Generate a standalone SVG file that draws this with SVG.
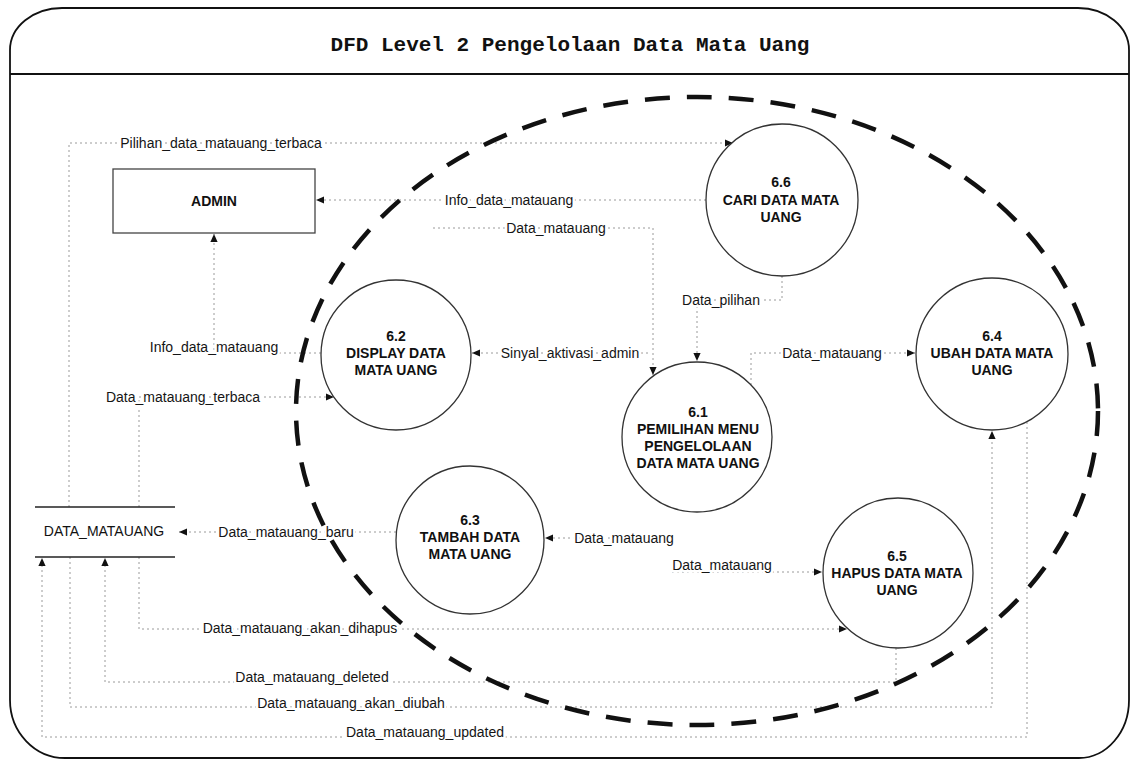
<svg xmlns="http://www.w3.org/2000/svg" width="1135" height="762" viewBox="0 0 1135 762">
<defs>
<marker id="arr" viewBox="0 0 10 10" refX="10" refY="5" markerWidth="8" markerHeight="8" markerUnits="userSpaceOnUse" orient="auto"><path d="M0,0.5 L10,5 L0,9.5 z" fill="#111"/></marker>
<style>
.flow{fill:none;stroke:#9a9a9a;stroke-width:1;stroke-dasharray:2 3;marker-end:url(#arr)}
.lbl{font-family:"Liberation Sans",Arial,sans-serif;font-size:14px;fill:#151515;text-anchor:middle;stroke:#fff;stroke-width:5;stroke-linejoin:round;paint-order:stroke}
.proc{fill:#fff;stroke:#333;stroke-width:1.3}
.ptxt{font-family:"Liberation Sans",Arial,sans-serif;font-size:14px;font-weight:bold;fill:#111;text-anchor:middle}
.frame{fill:none;stroke:#111;stroke-width:1.8}
</style>
</defs>
<rect width="1135" height="762" fill="#fff"/>
<g id="frame">
<path class="frame" d="M62,8 H1078 A51 42 0 0 1 1129 50 V700 A50 58 0 0 1 1079 758 H65 A55 58 0 0 1 10 700 V50 A52 42 0 0 1 62 8 Z"/>
<line x1="10" y1="74" x2="1129" y2="74" stroke="#111" stroke-width="1.8"/>
<text x="570" y="51" font-family="'Liberation Mono','Courier New',monospace" font-size="21" font-weight="bold" fill="#111" text-anchor="middle">DFD Level 2 Pengelolaan Data Mata Uang</text>
</g>
<g id="connectors">
<g id="f-pilihan"><path class="flow" d="M69,507 V143 H733"/><text class="lbl" x="221" y="148">Pilihan_data_matauang_terbaca</text></g>
<g id="f-info-top"><path class="flow" d="M706,200 H316"/><text class="lbl" x="509" y="205">Info_data_matauang</text></g>
<g id="f-data-admin"><path class="flow" d="M433,228 H653 V375"/><text class="lbl" x="556" y="233">Data_matauang</text></g>
<g id="f-pilihan2"><path class="flow" d="M782,276 V300 H697 V361"/><text class="lbl" x="721" y="305">Data_pilihan</text></g>
<g id="f-info-left"><path class="flow" d="M321,353 H214 V234"/><text class="lbl" x="214" y="352">Info_data_matauang</text></g>
<g id="f-terbaca"><path class="flow" d="M139,507 V397 H334"/><text class="lbl" x="183" y="402">Data_matauang_terbaca</text></g>
<g id="f-sinyal"><path class="flow" d="M648,353 H472"/><text class="lbl" x="570" y="358">Sinyal_aktivasi_admin</text></g>
<g id="f-ubah"><path class="flow" d="M751,385 V353 H915"/><text class="lbl" x="832" y="358">Data_matauang</text></g>
<g id="f-tambah"><path class="flow" d="M675,538 H545"/><text class="lbl" x="624" y="543">Data_matauang</text></g>
<g id="f-hapus"><path class="flow" d="M672,572 H822"/><text class="lbl" x="722" y="570">Data_matauang</text></g>
<g id="f-baru"><path class="flow" d="M396,532 H179"/><text class="lbl" x="286" y="537">Data_matauang_baru</text></g>
<g id="f-dihapus"><path class="flow" d="M139,557 V629 H847"/><text class="lbl" x="300" y="633">Data_matauang_akan_dihapus</text></g>
<g id="f-deleted"><path class="flow" d="M896,648 V682 H105 V558"/><text class="lbl" x="312" y="682">Data_matauang_deleted</text></g>
<g id="f-diubah"><path class="flow" d="M70,557 V707 H992 V431"/><text class="lbl" x="351" y="708">Data_matauang_akan_diubah</text></g>
<g id="f-updated"><path class="flow" d="M1027,422 V737 H42 V558"/><text class="lbl" x="425" y="737">Data_matauang_updated</text></g>
</g>
<g id="boundary">
<ellipse cx="697" cy="411" rx="401" ry="314" fill="none" stroke="#111" stroke-width="4.5" stroke-dasharray="25 17"/>
</g>
<g id="node-admin">
<rect x="113" y="169" width="202" height="64" fill="#fff" stroke="#444" stroke-width="1.3"/>
<text class="ptxt" x="214" y="206">ADMIN</text>
</g>
<g id="node-store">
<line x1="35" y1="507" x2="175" y2="507" stroke="#222" stroke-width="1.5"/>
<line x1="35" y1="557" x2="175" y2="557" stroke="#222" stroke-width="1.5"/>
<text x="104" y="536" font-family="'Liberation Sans',Arial,sans-serif" font-size="14" fill="#111" text-anchor="middle">DATA_MATAUANG</text>
</g>
<g id="node-6-6">
<circle class="proc" cx="782" cy="200" r="76"/>
<text class="ptxt" x="781" y="187">6.6</text><text class="ptxt" x="781" y="205">CARI DATA MATA</text><text class="ptxt" x="781" y="222">UANG</text>
</g>
<g id="node-6-2">
<circle class="proc" cx="396" cy="355" r="75"/>
<text class="ptxt" x="396" y="341">6.2</text><text class="ptxt" x="396" y="358">DISPLAY DATA</text><text class="ptxt" x="396" y="375">MATA UANG</text>
</g>
<g id="node-6-4">
<circle class="proc" cx="992" cy="354" r="76"/>
<text class="ptxt" x="992" y="341">6.4</text><text class="ptxt" x="992" y="358">UBAH DATA MATA</text><text class="ptxt" x="992" y="375">UANG</text>
</g>
<g id="node-6-1">
<circle class="proc" cx="697" cy="437" r="75"/>
<text class="ptxt" x="698" y="417">6.1</text><text class="ptxt" x="698" y="434">PEMILIHAN MENU</text><text class="ptxt" x="698" y="451">PENGELOLAAN</text><text class="ptxt" x="698" y="468">DATA MATA UANG</text>
</g>
<g id="node-6-3">
<circle class="proc" cx="470" cy="540" r="74"/>
<text class="ptxt" x="470" y="525">6.3</text><text class="ptxt" x="470" y="542">TAMBAH DATA</text><text class="ptxt" x="470" y="559">MATA UANG</text>
</g>
<g id="node-6-5">
<circle class="proc" cx="898" cy="573" r="75"/>
<text class="ptxt" x="897" y="561">6.5</text><text class="ptxt" x="897" y="578">HAPUS DATA MATA</text><text class="ptxt" x="897" y="595">UANG</text>
</g>
</svg>
